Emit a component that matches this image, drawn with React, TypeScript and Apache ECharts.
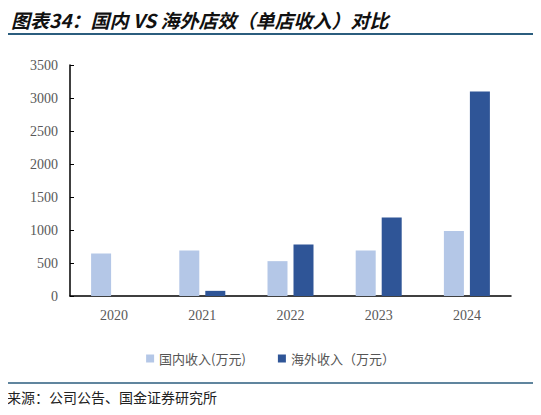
import React, { useEffect, useRef } from "react";
import * as echarts from "echarts";

const years = ["2020", "2021", "2022", "2023", "2024"];
const domesticRevenue = [645, 690, 528, 690, 985];
const overseasRevenue = [0, 78, 782, 1190, 3100];
const seriesNames = ["国内收入(万元)", "海外收入（万元）"];

const titleText = "图表34：国内 VS 海外店效（单店收入）对比";
const sourceText = "来源：公司公告、国金证券研究所";

const App: React.FC = () => {
  const chartRef = useRef<HTMLDivElement>(null);

  useEffect(() => {
    if (!chartRef.current) return;
    const chart = echarts.init(chartRef.current, null, { renderer: "svg" });

    const serif = "'Liberation Serif', 'Times New Roman', serif";
    const cjk = "'Noto Sans CJK SC', sans-serif";

    chart.setOption({
      animation: false,
      backgroundColor: "#fff",
      title: {
        text: titleText,
        left: 6,
        top: 5,
        textStyle: {
          fontFamily: cjk,
          fontSize: 19,
          fontWeight: "bold",
          fontStyle: "italic",
          color: "#111",
        },
      },
      graphic: [
        {
          type: "line",
          shape: { x1: 4, y1: 34, x2: 537, y2: 34 },
          style: { stroke: "#2b5d7e", lineWidth: 2 },
        },
        {
          type: "line",
          shape: { x1: 4, y1: 383, x2: 537, y2: 383 },
          style: { stroke: "#2b5d7e", lineWidth: 1.5 },
        },
        {
          type: "text",
          left: 7,
          top: 390,
          style: {
            text: sourceText,
            font: "14px 'Noto Sans CJK SC', sans-serif",
            fill: "#222",
          },
        },
      ],
      legend: {
        data: seriesNames,
        left: "center",
        top: 347,
        icon: "rect",
        itemWidth: 8,
        itemHeight: 8,
        itemGap: 32,
        textStyle: { fontFamily: cjk, fontSize: 13, color: "#555" },
      },
      grid: { left: 70, right: 30, top: 65, bottom: 119 },
      xAxis: {
        type: "category",
        data: years,
        axisLine: { lineStyle: { color: "#000", width: 1.5 } },
        axisTick: { inside: true, length: 4, lineStyle: { color: "#000" } },
        axisLabel: {
          fontFamily: serif,
          fontSize: 14,
          color: "#595959",
          margin: 12,
        },
      },
      yAxis: {
        type: "value",
        min: 0,
        max: 3500,
        interval: 500,
        splitLine: { show: false },
        axisLine: { show: true, lineStyle: { color: "#000", width: 1.5 } },
        axisTick: { show: true, inside: true, length: 4, lineStyle: { color: "#000" } },
        axisLabel: {
          fontFamily: serif,
          fontSize: 14,
          color: "#595959",
          margin: 12,
          formatter: (v: number) => String(v),
        },
      },
      series: [
        {
          name: seriesNames[0],
          type: "bar",
          data: domesticRevenue,
          barWidth: 20,
          barGap: "30%",
          itemStyle: { color: "#b4c7e7" },
        },
        {
          name: seriesNames[1],
          type: "bar",
          data: overseasRevenue,
          barWidth: 20,
          itemStyle: { color: "#2f5597" },
        },
      ],
    });

    return () => {
      chart.dispose();
    };
  }, []);

  return <div ref={chartRef} style={{ width: 541, height: 415, margin: -8 }} />;
};

export default App;
